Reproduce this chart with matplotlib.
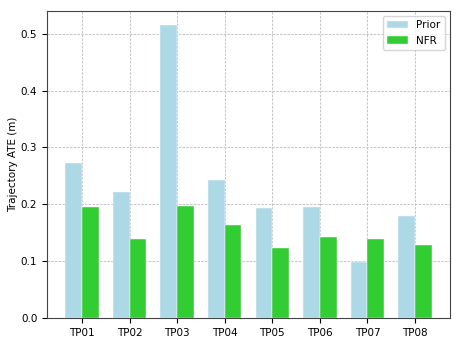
import matplotlib
matplotlib.use("Agg")
import matplotlib.pyplot as plt
import numpy as np

categories = ["TP01", "TP02", "TP03", "TP04", "TP05", "TP06", "TP07", "TP08"]
prior = [0.272, 0.222, 0.515, 0.242, 0.193, 0.196, 0.099, 0.180]
nfr = [0.195, 0.139, 0.197, 0.164, 0.124, 0.142, 0.139, 0.128]

fig = plt.figure(figsize=(4.61, 3.46), dpi=100)
ax = fig.add_axes([47/461, 1 - 318/346, (450-47)/461, (318-11)/346])
x = np.arange(len(categories))
w = 0.35
ax.bar(x - w/2, prior, w, color="lightblue", edgecolor="white", linewidth=0.3, label="Prior", zorder=2)
ax.bar(x + w/2, nfr, w, color="limegreen", edgecolor="white", linewidth=0.3, label="NFR", zorder=2)
ax.set_xticks(x)
ax.set_xticklabels(categories)
ax.set_ylim(0, 0.540)
ax.set_yticks([0.0, 0.1, 0.2, 0.3, 0.4, 0.5])
ax.set_ylabel("Trajectory ATE (m)", fontsize=7.5, labelpad=2)
ax.tick_params(labelsize=7.5)
ax.grid(True, linestyle=(0, (3, 1.5)), color="#bbbbbb", linewidth=0.6, zorder=0)
ax.set_axisbelow(True)
for s in ax.spines.values():
    s.set_color("#444444")
ax.legend(loc="upper right", fontsize=7.5)
fig.savefig("out.png", dpi=100)
